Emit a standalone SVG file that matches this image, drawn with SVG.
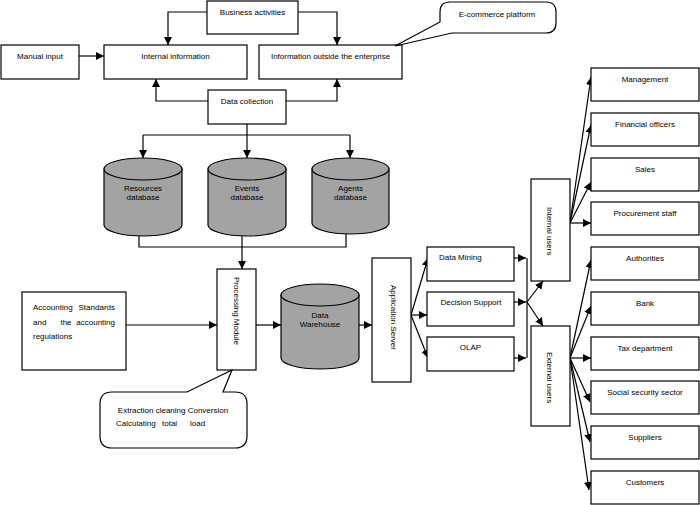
<svg xmlns="http://www.w3.org/2000/svg" width="700" height="505" viewBox="0 0 700 505">
<defs>
<style>
.b{fill:#fff;stroke:#000;stroke-width:1.2}
.db{fill:#a3a3a3;stroke:#000;stroke-width:1.2}
.c{fill:none;stroke:#000;stroke-width:1.2}
.a{marker-end:url(#ah)}
text{font-family:"Liberation Sans",Arial,sans-serif;font-size:8px;fill:#000}
.m{text-anchor:middle}
</style>
<marker id="ah" viewBox="0 0 10 10" refX="10" refY="5" markerWidth="8" markerHeight="8" orient="auto" markerUnits="userSpaceOnUse"><path d="M0,0 L10,5 L0,10 Z" fill="#000"/></marker>
</defs>
<rect width="700" height="505" fill="#fff"/>

<g id="connectors">
<path class="c a" d="M207,12 H168 V45"/>
<path class="c a" d="M298,12 H337 V45"/>
<path class="c a" d="M79,56 H104"/>
<path class="c a" d="M208,101 H156 V79"/>
<path class="c a" d="M286,101 H337 V79"/>
<path class="c a" d="M247,124 V158"/>
<path class="c" d="M143,135 H350"/>
<path class="c a" d="M143,135 V158"/>
<path class="c a" d="M350,135 V158"/>
<path class="c" d="M139,236 V247 H346 V234"/>
<path class="c a" d="M242,236 V269"/>
<path class="c a" d="M126,325 H217"/>
<path class="c a" d="M256,325 H281"/>
<path class="c a" d="M359,325 H372"/>
<path class="c a" d="M411,315 L428,258"/>
<path class="c a" d="M411,315 H427"/>
<path class="c a" d="M411,315 L428,358"/>
<path class="c a" d="M514,258 H526"/>
<path class="c a" d="M514,302 H526"/>
<path class="c a" d="M514,358 H526"/>
<path class="c" d="M527,258 V358"/>
<path class="c a" d="M527,302 L543,281"/>
<path class="c a" d="M527,302 L543,326"/>
<path class="c a" d="M570,223 L591,77"/>
<path class="c a" d="M570,223 L591,125"/>
<path class="c a" d="M570,223 L591,182"/>
<path class="c a" d="M570,223 H591"/>
<path class="c a" d="M570,358 L591,260"/>
<path class="c a" d="M570,358 L591,306"/>
<path class="c a" d="M570,358 H591"/>
<path class="c a" d="M570,358 L590,402"/>
<path class="c a" d="M570,358 L590,442"/>
<path class="c a" d="M570,358 L589,490"/>
</g>

<g id="business"><rect class="b" x="207" y="1" width="91" height="33"/><text class="m" x="252.5" y="15">Business activities</text></g>
<g id="manual"><rect class="b" x="1" y="45" width="78" height="34"/><text class="m" x="40" y="59">Manual input</text></g>
<g id="internal-info"><rect class="b" x="104" y="45" width="143" height="34"/><text class="m" x="175.5" y="59">Internal information</text></g>
<g id="outside-info"><rect class="b" x="259" y="45" width="143" height="34"/><text class="m" x="330.5" y="59">Information outside the enterprise</text></g>
<g id="ecommerce"><path class="b" d="M450,2 H546 Q556,2 556,12 V23 Q556,33 546,33 H452 L395,46 L440,22 V12 Q440,2 450,2 Z"/><text class="m" x="497" y="17">E-commerce platform</text></g>
<g id="data-collection"><rect class="b" x="208" y="90" width="78" height="34"/><text class="m" x="247" y="104">Data collection</text></g>

<g id="resources-db"><path class="db" d="M104,169 V225 A39,11 0 0 0 182,225 V169 Z"/><ellipse class="db" cx="143" cy="169" rx="39" ry="11"/><text class="m" x="143" y="191">Resources</text><text class="m" x="143" y="200">database</text></g>
<g id="events-db"><path class="db" d="M208,169 V225 A39,11 0 0 0 286,225 V169 Z"/><ellipse class="db" cx="247" cy="169" rx="39" ry="11"/><text class="m" x="247" y="191">Events</text><text class="m" x="247" y="200">database</text></g>
<g id="agents-db"><path class="db" d="M312,169 V223 A38.5,11 0 0 0 389,223 V169 Z"/><ellipse class="db" cx="350.5" cy="169" rx="38.5" ry="11"/><text class="m" x="350.5" y="191">Agents</text><text class="m" x="350.5" y="200">database</text></g>

<g id="accounting"><rect class="b" x="22" y="292" width="104" height="78"/>
<text x="33" y="310">Accounting</text><text x="115" y="310" text-anchor="end">Standards</text>
<text x="33" y="324.5">and</text><text class="m" x="66" y="324.5">the</text><text x="115" y="324.5" text-anchor="end">accounting</text>
<text x="33" y="339">regulations</text></g>
<g id="processing"><rect class="b" x="217" y="269" width="39" height="101"/><text transform="translate(233.5,277) rotate(90)">Processing  Module</text></g>
<g id="extraction"><path class="b" d="M112,392 H187 L232,370 L223,392 H235 Q247,392 247,404 V436 Q247,448 235,448 H112 Q100,448 100,436 V404 Q100,392 112,392 Z"/><text class="m" x="173" y="413">Extraction cleaning Conversion</text><text x="116" y="426">Calculating</text><text x="162" y="426">total</text><text x="190" y="426">load</text></g>
<g id="warehouse"><path class="db" d="M281,295 V358 A39,11 0 0 0 359,358 V295 Z"/><ellipse class="db" cx="320" cy="295" rx="39" ry="11"/><text class="m" x="320" y="318">Data</text><text class="m" x="320" y="327">Warehouse</text></g>
<g id="app-server"><rect class="b" x="372" y="258" width="39" height="124"/><text transform="translate(390.5,285) rotate(90)">Application  Server</text></g>
<g id="data-mining"><rect class="b" x="427" y="247" width="87" height="34"/><text x="439" y="260">Data Mining</text></g>
<g id="decision-support"><rect class="b" x="427" y="292" width="87" height="34"/><text class="m" x="471" y="305">Decision Support</text></g>
<g id="olap"><rect class="b" x="427" y="337" width="87" height="34"/><text class="m" x="470.5" y="350">OLAP</text></g>
<g id="internal-users"><rect class="b" x="531" y="179" width="39" height="102"/><text transform="translate(546.5,207) rotate(90)">Internal users</text></g>
<g id="external-users"><rect class="b" x="531" y="326" width="39" height="100"/><text transform="translate(547,352) rotate(90)">External users</text></g>

<g id="management"><rect class="b" x="591" y="68" width="108" height="33"/><text class="m" x="645" y="82">Management</text></g>
<g id="financial"><rect class="b" x="591" y="113" width="108" height="33"/><text class="m" x="645" y="127">Financial officers</text></g>
<g id="sales"><rect class="b" x="591" y="158" width="108" height="33"/><text class="m" x="645" y="172">Sales</text></g>
<g id="procurement"><rect class="b" x="591" y="202" width="108" height="33"/><text class="m" x="645" y="216">Procurement staff</text></g>
<g id="authorities"><rect class="b" x="591" y="247" width="108" height="33"/><text class="m" x="645" y="261">Authorities</text></g>
<g id="bank"><rect class="b" x="591" y="292" width="108" height="33"/><text class="m" x="645" y="306">Bank</text></g>
<g id="tax"><rect class="b" x="591" y="337" width="108" height="33"/><text class="m" x="645" y="351">Tax department</text></g>
<g id="social"><rect class="b" x="591" y="381" width="108" height="33"/><text class="m" x="645" y="395">Social security sector</text></g>
<g id="suppliers"><rect class="b" x="591" y="426" width="108" height="33"/><text class="m" x="645" y="440">Suppliers</text></g>
<g id="customers"><rect class="b" x="591" y="471" width="108" height="33"/><text class="m" x="645" y="485">Customers</text></g>
</svg>
